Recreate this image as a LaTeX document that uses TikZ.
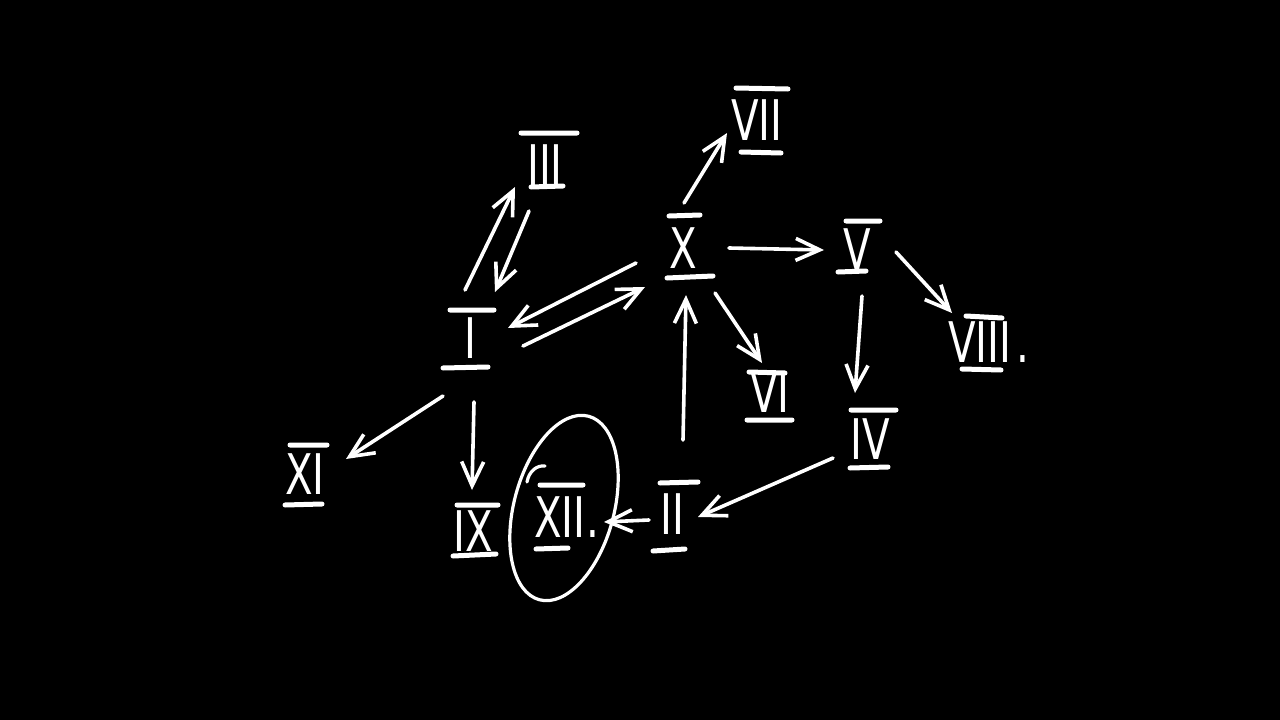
\documentclass[tikz,border=0pt]{standalone}
\usepackage{graphicx}
\usepackage{fontspec}
\newfontfamily\chalk{DejaVu Sans}
\usetikzlibrary{arrows.meta}
\newcommand\nm[1]{\scalebox{0.72}[1]{#1}}
\tikzset{
  rnum/.style={text=white, inner sep=0pt, font=\chalk\fontsize{56}{56}\selectfont},
  bar/.style={draw=white, line width=5pt, line cap=round},
  arr/.style={draw=white, line width=3.6pt, line cap=round,
    -{Straight Barb[length=24pt,width=22pt]}},
  ring/.style={draw=white, line width=3.2pt},
}
\begin{document}
\begin{tikzpicture}[x=1pt,y=-1pt]
\fill[black] (0,0) rectangle (1280,720);
\useasboundingbox (0,0) rectangle (1280,720);
% numerals
\node[rnum] (III)  at (545,165) {\nm{III}};
\node[rnum] (I)    at (470,338) {\nm{I}};
\node[rnum] (VII)  at (757,120) {\nm{VII}};
\node[rnum] (X)    at (683,248) {\nm{X}};
\node[rnum] (V)    at (857,249) {\nm{V}};
\node[rnum] (VIII) at (980,342) {\nm{VIII}\rlap{\hspace{5pt}\nm{.}}};
\node[rnum] (VI)   at (770,392) {\nm{VI}};
\node[rnum] (IV)   at (870,439) {\nm{IV}};
\node[rnum] (II)   at (672,514) {\nm{II}};
\node[rnum] (XII)  at (560,517) {\nm{XII}\rlap{\hspace{1pt}\nm{.}}};
\node[rnum] (IX)   at (473,531) {\nm{IX}};
\node[rnum] (XI)   at (305,474) {\nm{XI}};
% bars
\draw[bar] (521,133) -- (577,133) (531,187) -- (563,186);
\draw[bar] (450,310) -- (494,310) (443,368) -- (488,367);
\draw[bar] (736,88) -- (788,89) (741,152) -- (781,153);
\draw[bar] (669,216) -- (700,215) (667,278) -- (713,276);
\draw[bar] (846,221) -- (880,221) (838,272) -- (866,271);
\draw[bar] (966,316) -- (1002,318) (962,369) -- (1001,370);
\draw[bar] (749,372) -- (785,373) (747,420) -- (792,420);
\draw[bar] (851,410) -- (896,410) (850,468) -- (888,467);
\draw[bar] (660,483) -- (698,482) (653,551) -- (685,549);
\draw[bar] (540,485) -- (583,485) (536,549) -- (568,548);
\draw[bar] (457,505) -- (498,505) (453,556) -- (496,554);
\draw[bar] (290,445) -- (327,445) (285,505) -- (322,504);
% ring round XII
\draw[ring] (564,508) ellipse[x radius=50, y radius=95, rotate=-15];
\draw[ring, line cap=round] (527,482) .. controls (529,471) and (537,465) .. (545,466);
% connectors
\draw[arr] ([shift={(-5,-48)}]I.center) -- ([shift={(-30,22)}]III.center);
\draw[arr] ([shift={(-16,46)}]III.center) -- ([shift={(25,-46)}]I.center);
\draw[arr] ([shift={(-47,15)}]X.center) -- ([shift={(38,-10)}]I.center);
\draw[arr] ([shift={(53,8)}]I.center) -- ([shift={(-38,39)}]X.center);
\draw[arr] ([shift={(1,-45)}]X.center) -- ([shift={(-30,13)}]VII.center);
\draw[arr] ([shift={(46,0)}]X.center) -- ([shift={(-33,1)}]V.center);
\draw[arr] ([shift={(32,45)}]X.center) -- ([shift={(-8,-29)}]VI.center);
\draw[arr] ([shift={(39,3)}]V.center) -- ([shift={(-28,-29)}]VIII.center);
\draw[arr] ([shift={(5,47)}]V.center) -- ([shift={(-15,-46)}]IV.center);
\draw[arr] ([shift={(11,-74)}]II.center) -- ([shift={(3,47)}]X.center);
\draw[arr] ([shift={(-37,19)}]IV.center) -- ([shift={(26,3)}]II.center);
\draw[arr] ([shift={(-23,6)}]II.center) -- ([shift={(44,5)}]XII.center);
\draw[arr] ([shift={(-27,58)}]I.center) -- ([shift={(41,-15)}]XI.center);
\draw[arr] ([shift={(4,64)}]I.center) -- ([shift={(-1,-41)}]IX.center);
\end{tikzpicture}
\end{document}
